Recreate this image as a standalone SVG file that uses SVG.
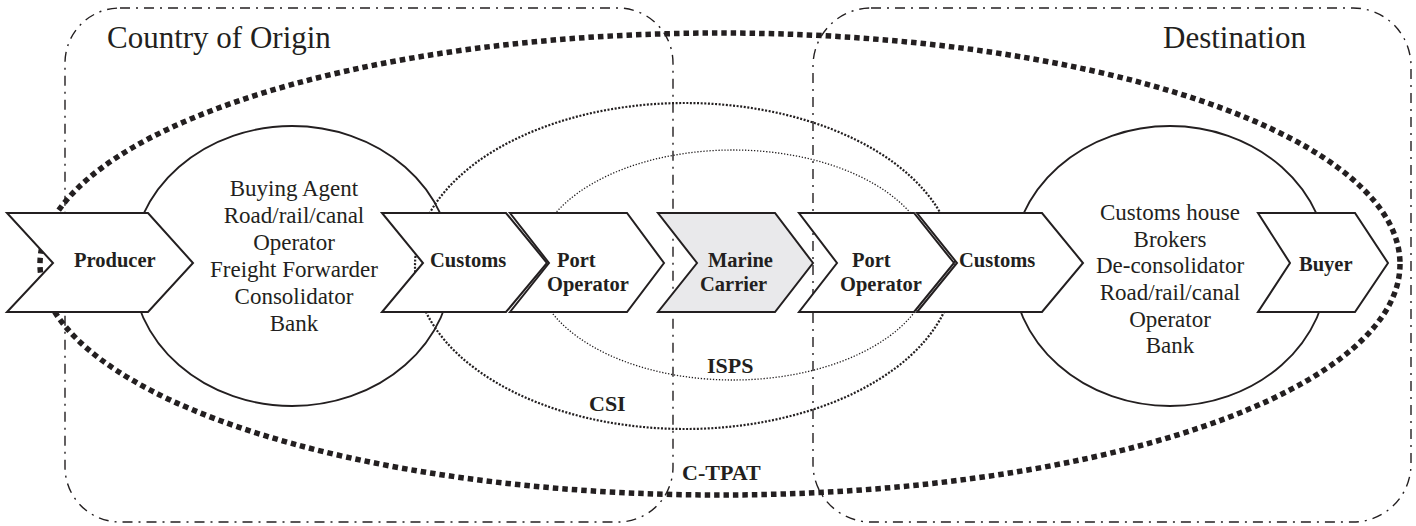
<svg xmlns="http://www.w3.org/2000/svg" width="1416" height="526" viewBox="0 0 1416 526">
<style>
.region{fill:none;stroke:#231f20;stroke-width:1.4;stroke-dasharray:10 6 2 6}
.ctpat{fill:none;stroke:#231f20;stroke-width:5.5;stroke-dasharray:5.5 4}
.csi{fill:none;stroke:#231f20;stroke-width:2.2;stroke-dasharray:2 1.6}
.isps{fill:none;stroke:#231f20;stroke-width:1.3;stroke-dasharray:1.3 1.7}
.circ{fill:none;stroke:#231f20;stroke-width:1.8}
.chev{fill:#fff;stroke:#231f20;stroke-width:2;stroke-linejoin:miter}
.grey{fill:#e9e9eb}
.lbl{font-family:"Liberation Serif","Times New Roman",serif;font-weight:bold;font-size:20.5px;fill:#231f20}
.big{font-family:"Liberation Serif","Times New Roman",serif;font-size:31px;fill:#231f20}
.txt{font-family:"Liberation Serif","Times New Roman",serif;font-size:23px;fill:#231f20;text-anchor:middle}
.scope{font-family:"Liberation Serif","Times New Roman",serif;font-weight:bold;font-size:22px;fill:#231f20}
</style>
<g id="region-origin">
<rect class="region" x="65" y="8" width="608" height="514" rx="55"/>
<text class="big" x="107" y="48">Country of Origin</text>
</g>
<g id="region-destination">
<rect class="region" x="813" y="8" width="598" height="514" rx="58"/>
<text class="big" x="1163" y="48">Destination</text>
</g>
<g id="scope-ctpat">
<ellipse class="ctpat" cx="720" cy="264" rx="680" ry="231"/>
<text class="scope" x="682" y="480">C-TPAT</text>
</g>
<g id="scope-csi">
<ellipse class="csi" cx="685" cy="266" rx="270" ry="163"/>
<text class="scope" x="589" y="411">CSI</text>
</g>
<g id="scope-isps">
<ellipse class="isps" cx="733" cy="265" rx="199" ry="115"/>
<text class="scope" x="707" y="373">ISPS</text>
</g>
<g id="origin-actors">
<ellipse class="circ" cx="292" cy="266" rx="160" ry="140"/>
<text class="txt" x="294" y="196">Buying Agent</text>
<text class="txt" x="294" y="223">Road/rail/canal</text>
<text class="txt" x="294" y="250">Operator</text>
<text class="txt" x="294" y="277">Freight Forwarder</text>
<text class="txt" x="294" y="304">Consolidator</text>
<text class="txt" x="294" y="331">Bank</text>
</g>
<g id="destination-actors">
<ellipse class="circ" cx="1170" cy="266" rx="158" ry="140"/>
<text class="txt" x="1170" y="220">Customs house</text>
<text class="txt" x="1170" y="247">Brokers</text>
<text class="txt" x="1170" y="273">De-consolidator</text>
<text class="txt" x="1170" y="300">Road/rail/canal</text>
<text class="txt" x="1170" y="327">Operator</text>
<text class="txt" x="1170" y="353">Bank</text>
</g>
<g id="producer">
<polygon class="chev" points="7,213 148,213 193,263 148,312 7,312 53,263"/>
<text class="lbl" x="74" y="267">Producer</text>
</g>
<g id="customs-origin">
<polygon class="chev" points="382,213 506,213 547,263 506,312 382,312 423,263"/>
<text class="lbl" x="430" y="267">Customs</text>
</g>
<g id="port-operator-origin">
<polygon class="chev" points="510,213 627,213 664,263 627,312 510,312 549,263"/>
<text class="lbl" x="557" y="267">Port</text>
<text class="lbl" x="547" y="291">Operator</text>
</g>
<g id="marine-carrier">
<polygon class="chev grey" points="658,213 775,213 813,263 775,312 658,312 697,263"/>
<text class="lbl" x="708" y="267">Marine</text>
<text class="lbl" x="700" y="291">Carrier</text>
</g>
<g id="port-operator-destination">
<polygon class="chev" points="799,213 914,213 954,263 914,312 799,312 837,263"/>
<text class="lbl" x="852" y="267">Port</text>
<text class="lbl" x="840" y="291">Operator</text>
</g>
<g id="customs-destination">
<polygon class="chev" points="917,213 1042,213 1083,263 1042,312 917,312 957,263"/>
<text class="lbl" x="959" y="267">Customs</text>
</g>
<g id="buyer">
<polygon class="chev" points="1258,213 1355,213 1388,263 1355,312 1258,312 1290,263"/>
<text class="lbl" x="1299" y="271">Buyer</text>
</g>
</svg>
